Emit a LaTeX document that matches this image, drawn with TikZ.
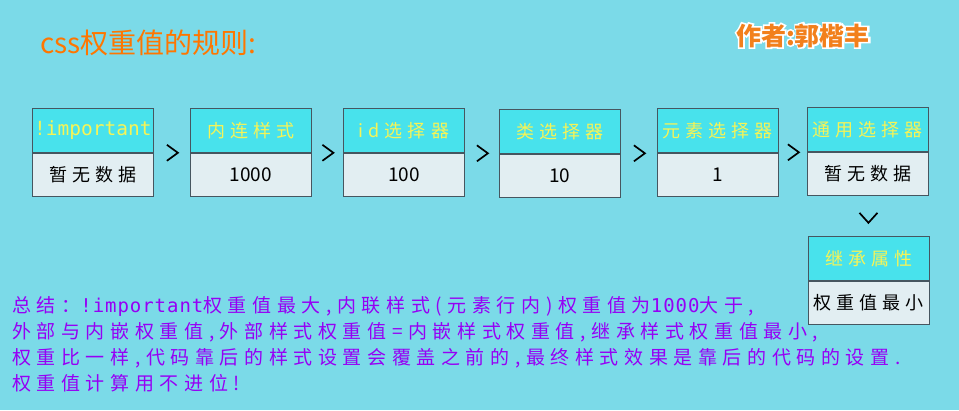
\documentclass[tikz,border=0pt]{standalone}
\usepackage{fontspec}
\setmainfont{Noto Sans CJK SC}
\newfontfamily\cjkfont{Noto Sans CJK SC}
\newfontfamily\cjkspaced{Noto Sans CJK SC}[LetterSpace=28]
\newfontfamily\notespaced{Noto Sans CJK SC}[LetterSpace=29.5]
\newfontfamily\latmono{DejaVu Sans Mono}
\newfontfamily\notemono{DejaVu Sans Mono}[LetterSpace=5]
\usetikzlibrary{positioning,calc}
\definecolor{bgblue}{RGB}{123,218,232}
\definecolor{headcyan}{RGB}{72,226,236}
\definecolor{bodygrey}{RGB}{226,238,242}
\definecolor{boxline}{RGB}{70,86,96}
\definecolor{headyellow}{RGB}{246,244,86}
\definecolor{titleorange}{RGB}{255,118,0}
\definecolor{authororange}{RGB}{242,128,28}
\definecolor{notepurple}{RGB}{150,0,245}
% white outline round a text (stroke render mode)
\newcommand{\haloed}[1]{\special{pdf:literal direct q 2 Tr 3.2 w 1 1 1 RG 1 1 1 rg}#1\special{pdf:literal direct Q}}
\newcommand{\digits}[1]{{\fontsize{19}{19}\cjkfont #1}}
\tikzset{head/.style={draw=boxline, fill=headcyan, line width=0.8pt,
           minimum width=121pt, minimum height=44pt, inner sep=0pt,
           text=headyellow, font=\fontsize{18}{18}\cjkspaced},
         body/.style={draw=boxline, fill=bodygrey, line width=0.8pt,
           minimum width=121pt, minimum height=43pt, inner sep=0pt,
           text=black, font=\fontsize{18}{18}\cjkspaced},
         chev/.style={line width=1.7pt, black, line join=miter},
         author/.style={anchor=base west, inner sep=0pt,
           font=\fontsize{25}{25}\cjkfont\bfseries},
         note/.style={anchor=base west, inner sep=0pt, text=notepurple,
           font=\fontsize{19}{19}\notespaced}}

\begin{document}
\begin{tikzpicture}[x=1pt, y=-1pt]
	  \fill[bgblue] (0,0) rectangle (959,410);
	  \useasboundingbox (0,0) rectangle (959,410);
	  % title and author
	  \node[anchor=base west, inner sep=0pt, text=titleorange,
	        font=\fontsize{28}{28}\cjkfont] (title) at (40,53) {css权重值的规则:};
	  \node[author, text=white] (halo) at (736,45) {\haloed{作者:郭楷丰}};
	  \node[author, text=authororange] (author) at (736,45) {作者:郭楷丰};
	  % selector boxes
	  \foreach \x/\y/\n/\hd/\bd in {32/108/1/{{\fontsize{19.5}{19.5}\latmono !important}}/暂无数据,
	      190/108/2/内连样式/\digits{1000}, 343/108/3/id选择器/\digits{100},
	      499/109/4/类选择器/\digits{10}, 657/108/5/元素选择器/\digits{1},
	      807/107/6/通用选择器/暂无数据}
	  {
	    \node[head, anchor=north west] (h\n) at (\x,\y) {\hd};
	    \node[body, below=0pt of h\n] (b\n) {\bd};
	  }
	  \node[head, anchor=north west] (h7) at (808,236) {继承属性};
	  \node[body, below=0pt of h7] (b7) {权重值最小};
	  % chevrons
	  \foreach \i/\j in {1/2,2/3,3/4,4/5,5/6}
	  {
	    \coordinate (g\i) at ($(h\i.south east)!0.5!(h\j.south west)$);
	    \draw[chev] ($(g\i)+(-5,-8)$) -- ($(g\i)+(6,0)$) -- ($(g\i)+(-5,8)$);
	  }
	  \coordinate (g6) at ($(b6.south)!0.55!(h7.north)$);
	  \draw[chev] ($(g6)+(-9,-5)$) -- ($(g6)+(0,5)$) -- ($(g6)+(9,-5)$);
	  % summary
	  \node[note] (s1) at (12,312) {总结：{\notemono !important}权重值最大,内联样式(元素行内)权重值为{\notemono 1000}大于,};
	  \node[note] (s2) at (12,338) {外部与内嵌权重值,外部样式权重值=内嵌样式权重值,继承样式权重值最小,};
	  \node[note] (s3) at (12,364) {权重比一样,代码靠后的样式设置会覆盖之前的,最终样式效果是靠后的代码的设置.};
	  \node[note] (s4) at (12,390) {权重值计算用不进位!};
	\end{tikzpicture}
\end{document}
